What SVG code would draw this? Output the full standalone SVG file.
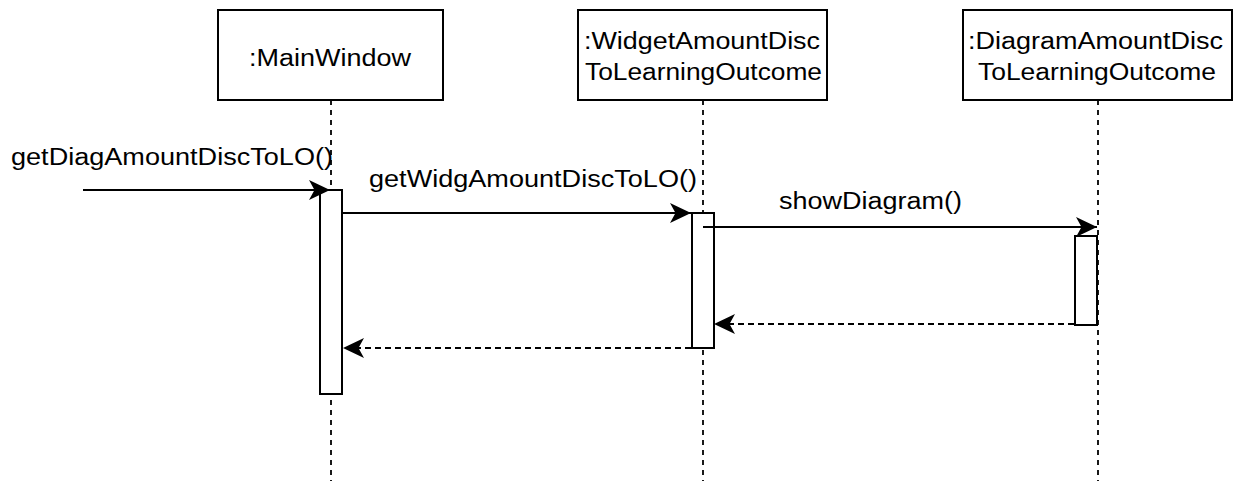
<svg xmlns="http://www.w3.org/2000/svg" width="1238" height="481" viewBox="0 0 1238 481">
  <defs>
    <style>
      .box { fill: #ffffff; stroke: #000000; stroke-width: 2; }
      .act { fill: #ffffff; stroke: #000000; stroke-width: 2; }
      .life { fill: none; stroke: #000000; stroke-width: 1.8; stroke-dasharray: 5 5; }
      .msg { fill: none; stroke: #000000; stroke-width: 2; marker-end: url(#arrow); }
      .ret { stroke-dasharray: 6 4; }
      .lbl { font-family: "Liberation Sans", Arial, sans-serif; font-size: 23px; fill: #000000; }
    </style>
    <marker id="arrow" viewBox="-24 -12 26 24" refX="0" refY="0" markerWidth="26" markerHeight="24" markerUnits="userSpaceOnUse" orient="auto">
      <path d="M0,0 L-21,-10 L-15.5,0 L-21,10 Z" fill="#000000" stroke="none"/>
    </marker>
  </defs>
  <rect width="1238" height="481" fill="#ffffff"/>

  <!-- participant: MainWindow -->
  <g id="mainWindow">
    <line class="life" x1="331" y1="100" x2="331" y2="481"/>
    <rect class="box" x="218" y="10" width="225" height="90"/>
    <text class="lbl" x="249" y="66" textLength="162" lengthAdjust="spacingAndGlyphs">:MainWindow</text>
    <rect class="act" x="320" y="190" width="22" height="204"/>
  </g>

  <!-- participant: WidgetAmountDiscToLearningOutcome -->
  <g id="widgetAmount">
    <line class="life" x1="703" y1="100" x2="703" y2="481"/>
    <rect class="box" x="578" y="10" width="249" height="90"/>
    <text class="lbl" x="584" y="49" textLength="236" lengthAdjust="spacingAndGlyphs">:WidgetAmountDisc</text>
    <text class="lbl" x="585" y="80" textLength="237" lengthAdjust="spacingAndGlyphs">ToLearningOutcome</text>
    <rect class="act" x="692" y="213" width="22" height="135"/>
  </g>

  <!-- participant: DiagramAmountDiscToLearningOutcome -->
  <g id="diagramAmount">
    <line class="life" x1="1098" y1="100" x2="1098" y2="481"/>
    <rect class="box" x="963" y="10" width="269" height="90"/>
    <text class="lbl" x="968" y="49" textLength="255" lengthAdjust="spacingAndGlyphs">:DiagramAmountDisc</text>
    <text class="lbl" x="978" y="80" textLength="238" lengthAdjust="spacingAndGlyphs">ToLearningOutcome</text>
    <rect class="act" x="1075" y="236" width="22" height="89"/>
  </g>

  <!-- messages -->
  <g id="connectors">
    <line class="msg" x1="83" y1="190" x2="330" y2="190"/>
    <text class="lbl" x="11" y="165" textLength="322" lengthAdjust="spacingAndGlyphs">getDiagAmountDiscToLO()</text>

    <line class="msg" x1="342" y1="213" x2="691" y2="213"/>
    <text class="lbl" x="369" y="187" textLength="328" lengthAdjust="spacingAndGlyphs">getWidgAmountDiscToLO()</text>

    <line class="msg" x1="703" y1="227" x2="1097" y2="227"/>
    <text class="lbl" x="779" y="209" textLength="183" lengthAdjust="spacingAndGlyphs">showDiagram()</text>

    <line class="msg ret" x1="1074" y1="324" x2="714" y2="324"/>
    <line class="msg ret" x1="691" y1="348" x2="343" y2="348"/>
  </g>
</svg>
